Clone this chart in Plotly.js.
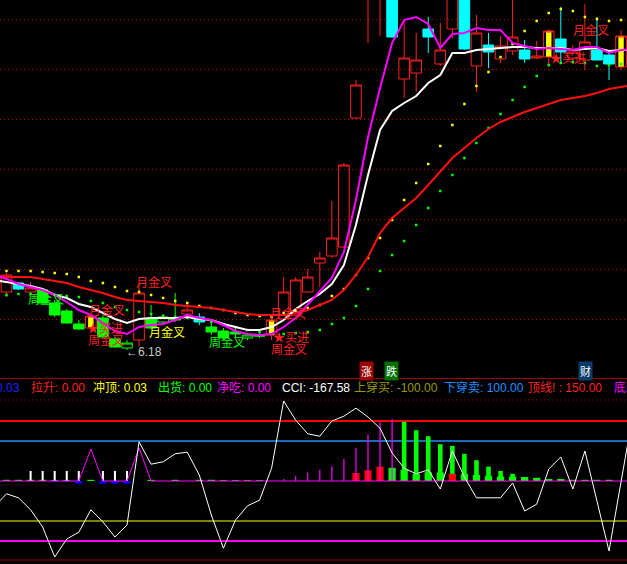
<!DOCTYPE html>
<html>
<head>
<meta charset="utf-8">
<script src="https://cdn.plot.ly/plotly-3.0.1.min.js"></script>
<style>
html,body{margin:0;padding:0;background:#000;overflow:hidden;}
#chart{width:627px;height:564px;}
</style>
</head>
<body>
<div id="chart"></div>
<script>
// ---------------- DATA ----------------
// bar index (-1 and 52 are the neighbouring bars just outside the visible window)
const idx = [-1,0,1,2,3,4,5,6,7,8,9,10,11,12,13,14,15,16,17,18,19,20,21,22,23,24,25,26,27,28,29,30,31,32,33,34,35,36,37,38,39,40,41,42,43,44,45,46,47,48,49,50,51,52];
// candle colour class: r = red (normal), c = cyan, g = green, y = yellow signal
const kind = ("r" + "rcrggggyggg" + "rgggrc" + "gggggy" + "rrrrrrrrr" + "c" + "rrcrrcrcrrcrycrrccyr").split('');
const open = [7.50,
  7.34,7.52,7.34,7.38,7.12,6.96,6.70,6.62,6.82,6.40,
  6.22,6.38,6.82,6.74,6.82,6.90,6.84,6.64,6.56,6.54,
  6.42,6.48,6.48,6.80,6.88,7.34,7.92,8.06,8.24,10.82,
  13.58,13.78,13.98,11.60,11.72,12.60,11.90,12.60,13.78,11.86,
  12.28,12.00,12.16,12.18,12.02,12.04,12.40,12.02,11.98,12.18,
  12.08,11.84, 12.00];
const close = [7.70,
  7.68,7.40,7.42,7.12,6.88,6.72,6.60,6.86,6.44,6.24,
  6.32,7.32,6.62,6.84,6.78,6.98,6.74,6.54,6.42,6.50,
  6.48,6.46,6.78,7.34,7.58,7.64,8.02,8.42,9.88,11.48,
  14.38,14.58,12.44,12.02,11.98,12.44,12.18,13.58,12.20,12.52,
  12.14,12.26,12.44,12.00,12.06,12.56,12.14,12.14,12.34,11.98,
  11.90,12.46, 12.40];
const high = [7.74,
  7.72,7.54,7.54,7.42,7.18,7.00,6.78,6.90,6.86,6.44,
  6.38,7.52,7.08,6.90,7.32,7.14,6.92,6.72,6.62,6.66,
  6.52,6.58,6.88,7.64,7.64,7.80,8.14,9.16,9.92,11.58,
  14.58,14.78,14.18,12.78,12.52,12.84,12.72,13.78,13.98,12.88,
  12.52,12.46,13.28,12.38,12.36,12.60,13.04,12.28,13.10,12.84,
  12.18,12.58, 12.50];
const low = [7.46,
  7.24,7.38,7.28,7.10,6.84,6.70,6.58,6.58,6.42,6.22,
  6.18,6.26,6.60,6.70,6.74,6.82,6.68,6.48,6.38,6.44,
  6.38,6.42,6.38,6.76,6.86,7.32,7.44,8.02,8.22,10.80,
  12.32,12.46,12.42,11.22,11.34,12.12,11.86,12.42,12.18,11.34,
  11.82,11.92,12.08,11.92,12.00,11.84,11.92,11.94,11.78,11.98,
  11.58,11.78, 11.90];
// moving averages
const maShort = [7.68,
  7.60,7.50,7.44,7.38,7.28,7.14,6.98,6.88,6.72,6.56,
  6.50,6.64,6.68,6.70,6.78,6.88,6.82,6.78,6.68,6.56,
  6.50,6.48,6.50,6.64,6.82,7.08,7.34,7.62,8.14,9.18,
  10.44,11.42,12.32,12.78,12.84,12.70,12.22,12.50,12.52,12.62,
  12.58,12.58,12.32,12.26,12.20,12.22,12.20,12.18,12.24,12.24,
  12.12,12.18, 12.20];
const maMid = [7.58,
  7.54,7.50,7.46,7.40,7.28,7.22,7.10,7.04,6.92,6.80,
  6.72,6.80,6.82,6.82,6.82,6.84,6.80,6.78,6.70,6.64,
  6.58,6.58,6.64,6.78,7.00,7.16,7.30,7.50,7.88,8.68,
  9.68,10.58,10.96,11.12,11.26,11.52,11.68,12.12,12.12,12.18,
  12.20,12.22,12.24,12.24,12.22,12.22,12.22,12.18,12.20,12.22,
  12.16,12.18, 12.18];
const maLong = [7.66,
  7.64,7.64,7.64,7.60,7.56,7.52,7.44,7.38,7.32,7.24,
  7.18,7.16,7.14,7.12,7.08,7.06,7.04,7.02,6.98,6.94,
  6.90,6.88,6.88,6.88,6.92,6.98,7.08,7.18,7.38,7.68,
  8.04,8.52,8.82,9.02,9.22,9.48,9.76,10.02,10.22,10.42,
  10.60,10.74,10.84,10.94,11.02,11.10,11.18,11.22,11.26,11.32,
  11.40,11.44, 11.48];
// dotted bands
const bandUpper = [7.76,
  7.76,7.76,7.76,7.74,7.72,7.70,7.64,7.56,7.52,7.44,
  7.36,7.34,7.28,7.22,7.16,7.12,7.06,7.02,6.98,6.92,
  6.88,6.86,6.84,6.92,6.96,7.02,7.08,7.26,7.40,7.68,
  8.02,8.42,8.78,9.18,9.52,9.90,10.26,10.68,11.10,11.46,
  11.74,12.04,12.30,12.56,12.76,12.92,13.00,12.96,12.84,12.80,
  12.76,12.78, 12.78];
const bandLower = [7.26,
  7.28,7.30,7.30,7.30,7.28,7.26,7.24,7.16,7.12,7.04,
  6.98,6.94,6.90,6.86,6.84,6.82,6.78,6.74,6.68,6.64,
  6.58,6.54,6.50,6.50,6.52,6.54,6.58,6.70,6.82,7.06,
  7.40,7.76,8.08,8.36,8.68,9.02,9.36,9.68,10.02,10.32,
  10.62,10.90,11.18,11.44,11.66,11.88,11.92,11.94,11.92,11.86,
  11.88,11.90, 11.90];
const gridPrices = [6.8,7.8,8.8,9.8,10.8,11.8,12.8];

// ---- lower indicator panel ----
const cci = [-64,
  -32,-42,-72,-115,-190,-145,-128,-72,-102,-140,
  -110,98,42,48,68,72,15,-85,-168,-98,
  -62,-48,32,200,152,118,112,150,162,182,
  160,132,70,32,18,28,-20,75,10,-42,
  -42,-42,-5,-75,-58,30,60,-20,75,-48,
  -175,-2, 170];
const jingchiLine = [0,0,0,0,0,0,0,0,80,0,
  0,0,82,0,0,0,0,0,0,0,
  0,0,0,0,0,0,0,0,0,0,
  0,0,0,0,0,0,0,0,0,0,
  0,0,0,0,0,0,0,0,0,0,
  0,0,0,0];
const whiteBarIdx = [2,3,4,5,6,8,9,10];
const whiteBarVal = [25,25,25,25,25,25,25,25];
const blueBarIdx = [4,5,6,8,9,10];
const blueBarVal = [-2,-2,-7,-7,-7,-7];
const greenWideIdx = [0,1,2,3,4,5,7,12,14,16,17,18,19,20,21,32,33,34,35,36,38,39,40,41,42,43,44,45,46,47,48,49,50];
const greenWideVal = [3,3,3,3,2,2,3,3,3,3,3,2,2,2,2,33,28,18,22,21,18,15,13,11,11,10,8,5,5,3,3,3,3];
const greenTallIdx = [33,34,35,36,37,38,39,40,41,42,43];
const greenTallVal = [148,127,112,92,88,68,52,36,25,18,10];
const redBarIdx = [29,30,31,37];
const redBarVal = [20,27,36,18];
const magBarIdx = [23,24,25,26,27,28,29,30,31,32];
const magBarVal = [5,13,21,28,36,55,83,117,148,155];
const levels = [150, 100, -100, -150];
const cciLast = -167.58;

// header
const hdrLabels = ['拉升','冲顶','出货','净吃','CCI','上穿买','下穿卖','顶线! ','底线'];
const hdrValues = ['0.00','0.03','0.00','0.00', cciLast.toFixed(2), levels[2].toFixed(2), levels[1].toFixed(2), levels[0].toFixed(2), levels[3].toFixed(2)];
const hdrColors = ['#ff2020','#ffff00','#00ff00','#ff00ff','#ffffff','#9a9a00','#1e90ff','#ff2020','#ff00ff'];
const hdrPx = [30,92,157,216,281,353,443,527,613];

// signal labels
const sigText = ['周金叉','月金叉','月金叉','周金叉','★买进','月金叉','周金叉','月金叉','★买进','周金叉','月金叉','★买进'];
const sigColor = ['#00ff00','#ff2020','#ff2020','#ff2020','#ff2020','#ffff00','#00ff00','#ff2020','#ff2020','#ff2020','#ff2020','#ff2020'];
const sigX = [3.3,12.24,8.34,8.26,8.2,13.32,18.3,23.36,23.6,23.44,48.5,46.6];
const sigY = [7.22,7.56,7.00,6.40,6.64,6.56,6.36,6.94,6.46,6.22,12.60,12.04];

// ---------------- BUILD ----------------
const J = idx.map((_, j) => j);
const baseJ = J.filter(j => kind[j] !== 'g');
const greenJ = J.filter(j => kind[j] === 'g');
const yellowJ = J.filter(j => kind[j] === 'y');
const pick = (arr, js) => js.map(j => arr[j]);

const W = 627, H = 564;
const topBottomPx = 378, botTopPx = 380;
const CJK = 'Noto Sans CJK SC, sans-serif';
const LAT = 'Liberation Sans, Noto Sans CJK SC, sans-serif';

const traces = [];
traces.push({type:'scatter', mode:'markers', x:idx, y:bandUpper, xaxis:'x', yaxis:'y',
  marker:{symbol:'square', size:2.5, color:'#ffff00', line:{width:0}}, hoverinfo:'skip'});
traces.push({type:'scatter', mode:'markers', x:idx, y:bandLower, xaxis:'x', yaxis:'y',
  marker:{symbol:'square', size:2.5, color:'#00ff00', line:{width:0}}, hoverinfo:'skip'});
traces.push({type:'bar', x:pick(idx,yellowJ), base:pick(open,yellowJ),
  y:yellowJ.map(j => close[j]-open[j]), width:0.45, xaxis:'x', yaxis:'y',
  marker:{color:'#ffff00', line:{width:0}}, hoverinfo:'skip'});
traces.push({type:'candlestick', x:pick(idx,baseJ), open:pick(open,baseJ), high:pick(high,baseJ),
  low:pick(low,baseJ), close:pick(close,baseJ), xaxis:'x', yaxis:'y', whiskerwidth:0,
  increasing:{line:{color:'#ff2020', width:1}, fillcolor:'rgba(0,0,0,0)'},
  decreasing:{line:{color:'#00ffff', width:1}, fillcolor:'#00ffff'}, hoverinfo:'skip'});
traces.push({type:'candlestick', x:pick(idx,greenJ), open:pick(open,greenJ), high:pick(high,greenJ),
  low:pick(low,greenJ), close:pick(close,greenJ), xaxis:'x', yaxis:'y', whiskerwidth:0,
  increasing:{line:{color:'#00ff00', width:1}, fillcolor:'rgba(0,0,0,0)'},
  decreasing:{line:{color:'#00ff00', width:1}, fillcolor:'#00ff00'}, hoverinfo:'skip'});
traces.push({type:'scatter', mode:'lines', x:idx, y:maLong, xaxis:'x', yaxis:'y',
  line:{color:'#ff1010', width:2}, hoverinfo:'skip'});
traces.push({type:'scatter', mode:'lines', x:idx, y:maMid, xaxis:'x', yaxis:'y',
  line:{color:'#ffffff', width:2}, hoverinfo:'skip'});
traces.push({type:'scatter', mode:'lines', x:idx, y:maShort, xaxis:'x', yaxis:'y',
  line:{color:'#ff00ff', width:2}, hoverinfo:'skip'});

// lower panel
const bar2 = (xs, ys, w, c) => ({type:'bar', x:xs, y:ys, width:w, xaxis:'x2', yaxis:'y2',
  marker:{color:c, line:{width:0}}, hoverinfo:'skip'});
traces.push(bar2(greenWideIdx, greenWideVal, 0.6, '#00ff00'));
traces.push(bar2(greenTallIdx, greenTallVal, 0.38, '#00ff00'));
traces.push(bar2(redBarIdx, redBarVal, 0.6, '#ff0000'));
traces.push(bar2(blueBarIdx, blueBarVal, 0.6, '#0000ff'));
traces.push(bar2(magBarIdx, magBarVal, 0.1, '#ff00ff'));
traces.push(bar2(whiteBarIdx, whiteBarVal, 0.17, '#ffffff'));
traces.push({type:'scatter', mode:'lines', x:idx, y:jingchiLine, xaxis:'x2', yaxis:'y2',
  line:{color:'#ff00ff', width:1}, hoverinfo:'skip'});
traces.push({type:'scatter', mode:'lines', x:idx, y:cci, xaxis:'x2', yaxis:'y2',
  line:{color:'#ffffff', width:1}, hoverinfo:'skip'});

const xr = [(0-6.5)/12.05, (W-6.5)/12.05];
const yTopDom = [1 - topBottomPx/H, 1];
const yBotDom = [0, 1 - botTopPx/H];
const levelColors = ['#ff0000','#1e90ff','#808000','#ff00ff'];
const levelWidths = [2, 1.5, 2, 2];

const shapes = [];
levels.forEach((lv, k) => shapes.push({type:'line', xref:'paper', yref:'y2', x0:0, x1:1, y0:lv, y1:lv,
  line:{color:levelColors[k], width:levelWidths[k]}, layer:'below'}));
shapes.push({type:'line', xref:'paper', yref:'y2', x0:0, x1:1, y0:-197.5, y1:-197.5, line:{color:'#a00000', width:1}, layer:'below'});
shapes.push({type:'line', xref:'paper', yref:'y2', x0:0, x1:1, y0:202.5, y1:202.5, line:{color:'#c00000', width:1, dash:'1px,3px'}, layer:'below'});
shapes.push({type:'line', xref:'paper', yref:'paper', x0:0, x1:1, y0:1-(topBottomPx+0.5)/H, y1:1-(topBottomPx+0.5)/H, line:{color:'#a00000', width:1}});

const annotations = [];
sigText.forEach((t, k) => annotations.push({xref:'x', yref:'y', x:sigX[k], y:sigY[k], text:t, showarrow:false,
  xanchor:'center', yanchor:'middle', font:{family:CJK, size:12, color:sigColor[k]}, borderpad:0}));
annotations.push({xref:'x', yref:'y', x:11.37, y:6.14, text:'←6.18', showarrow:false, xanchor:'center', yanchor:'middle',
  font:{family:'Liberation Sans, DejaVu Sans, sans-serif', size:12, color:'#c8c8c8'}, borderpad:0});
// header row
const hdrY = 1 - 387.5/H;
annotations.push({xref:'paper', yref:'paper', x:21/W, y:hdrY, text:'0.03', showarrow:false, xanchor:'right', yanchor:'middle',
  font:{family:LAT, size:12, color:'#2020ff'}, borderpad:0});
hdrLabels.forEach((l, k) => annotations.push({xref:'paper', yref:'paper', x:hdrPx[k]/W, y:hdrY,
  text: l + ': ' + hdrValues[k], showarrow:false, xanchor:'left', yanchor:'middle',
  font:{family:LAT, size:12, color:hdrColors[k]}, borderpad:0}));
// small status badges
const badges = [['涨', 366, '#990000'], ['跌', 391.5, '#007000'], ['财', 585, '#0a3a6a']];
badges.forEach(b => annotations.push({xref:'paper', yref:'paper', x:b[1]/W, y:1-371/H, text:b[0], showarrow:false,
  xanchor:'center', yanchor:'middle', bgcolor:b[2], borderpad:1, font:{family:CJK, size:11, color:'#ffffff'}}));

const layout = {
  width:W, height:H, margin:{l:0, r:0, t:0, b:0, pad:0},
  paper_bgcolor:'#000000', plot_bgcolor:'#000000', showlegend:false,
  barmode:'overlay', boxgap:0.12, boxgroupgap:0, hovermode:false, dragmode:false,
  xaxis:{domain:[0,1], range:xr, anchor:'y', showgrid:false, zeroline:false, showticklabels:false, ticks:'',
    rangeslider:{visible:false}, showline:false, fixedrange:true},
  yaxis:{domain:yTopDom, range:[13.18-0.02*topBottomPx, 13.18], anchor:'x', tickvals:gridPrices, showticklabels:false,
    ticks:'', showgrid:true, gridcolor:'#c00000', gridwidth:1, griddash:'1px,3px', zeroline:false, showline:false, fixedrange:true},
  xaxis2:{domain:[0,1], range:xr, anchor:'y2', showgrid:false, zeroline:false, showticklabels:false, ticks:'', showline:false, fixedrange:true},
  yaxis2:{domain:yBotDom, range:[(481-H)*2.5, (481-botTopPx)*2.5], anchor:'x2', showgrid:false, zeroline:false,
    showticklabels:false, ticks:'', showline:false, fixedrange:true},
  shapes:shapes, annotations:annotations
};

Plotly.newPlot('chart', traces, layout, {staticPlot:true, displayModeBar:false});
</script>
</body>
</html>
